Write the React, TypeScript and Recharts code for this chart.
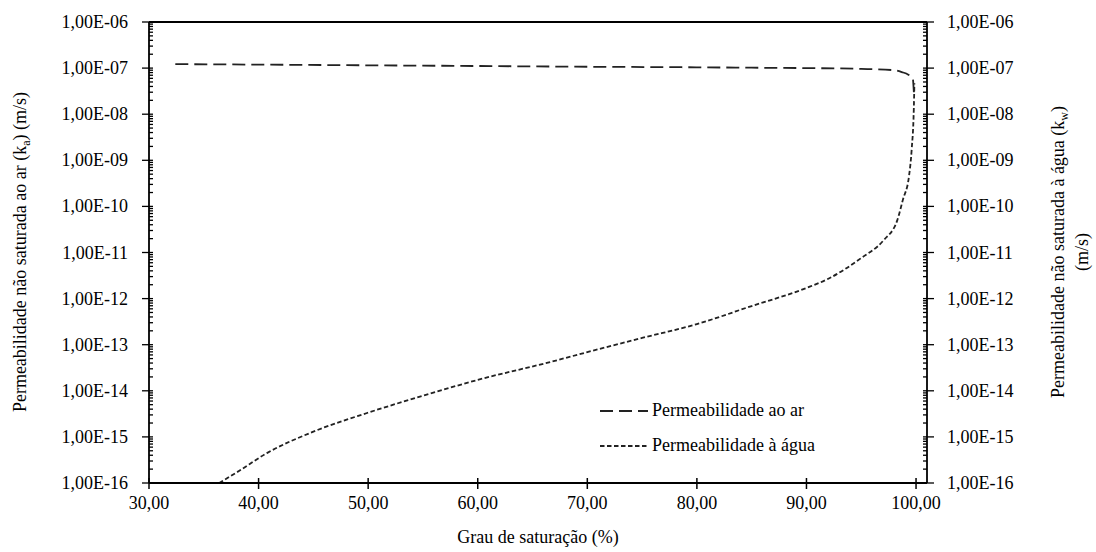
import React from 'react';
import { LineChart, Line, XAxis, YAxis, ReferenceLine, Legend } from 'recharts';

const FONT = 'Times New Roman, Liberation Serif, Tinos, DejaVu Serif, Noto Serif, serif';

// grau de saturação (%) vs permeabilidade ao ar (m/s)
const airSat = [32.4, 40, 50, 60, 70, 80, 85, 90, 95, 98.0, 98.7, 99.3, 99.7, 99.8];
const airPerm = [1.22e-7, 1.19e-7, 1.15e-7, 1.11e-7, 1.07e-7, 1.04e-7, 1.02e-7, 1.0e-7, 9.6e-8, 9.0e-8, 8.2e-8, 7.2e-8, 6.0e-8, 3.0e-8];

// grau de saturação (%) vs permeabilidade à água (m/s)
const waterSat = [36.4, 38, 40.8, 45, 49.9, 55, 59.9, 66.6, 70, 75, 80, 85, 90, 92, 95, 97, 98.3, 98.8, 99.35, 99.6, 99.8, 99.85];
const waterPerm = [
  1e-16, 1.7e-16, 4.5e-16, 1.3e-15, 3.3e-15, 7.8e-15, 1.7e-14, 4.2e-14, 6.9e-14, 1.4e-13, 2.8e-13,
  6.9e-13, 1.7e-12, 2.7e-12, 7.6e-12, 1.8e-11, 5.1e-11, 1.4e-10, 4.4e-10, 1.7e-9, 1.4e-8, 4.7e-8,
];

const xTicks = [30, 40, 50, 60, 70, 80, 90, 100];
const decades = [-16, -15, -14, -13, -12, -11, -10, -9, -8, -7, -6];

const airData = airSat.map((s, i) => ({ s, k: airPerm[i] }));
const waterData = waterSat.map((s, i) => ({ s, k: waterPerm[i] }));

// major + minor log ticks
const yTicks: number[] = [];
decades.forEach((e, i) => {
  const steps = i === decades.length - 1 ? [1] : [1, 2, 3, 4, 5, 6, 7, 8, 9];
  steps.forEach((m) => yTicks.push(m * Math.pow(10, e)));
});

const isMajor = (v: number) => {
  const l = Math.log10(v);
  return Math.abs(l - Math.round(l)) < 1e-6;
};
const fmtExp = (v: number) => {
  const e = Math.round(Math.log10(v));
  return `1,00E${e < 0 ? '-' : '+'}${String(Math.abs(e)).padStart(2, '0')}`;
};

const AIR_DASH = '13 6';
const WATER_DASH = '4.5 2.5';

const LeftTick = (props: any) => {
  const { x, y, payload } = props;
  const major = isMajor(payload.value);
  return (
    <g>
      <line x1={major ? x - 7 : x} x2={x + 4} y1={y} y2={y} stroke="#000" strokeWidth={1.3} />
      {major && (
        <text x={x - 21} y={y} textAnchor="end" dominantBaseline="central" fontFamily={FONT} fontSize={18} fill="#000">
          {fmtExp(payload.value)}
        </text>
      )}
    </g>
  );
};

const RightTick = (props: any) => {
  const { x, y, payload } = props;
  const major = isMajor(payload.value);
  return (
    <g>
      <line x1={x - 4} x2={major ? x + 7 : x} y1={y} y2={y} stroke="#000" strokeWidth={1.3} />
      {major && (
        <text x={x + 20} y={y} textAnchor="start" dominantBaseline="central" fontFamily={FONT} fontSize={18} fill="#000">
          {fmtExp(payload.value)}
        </text>
      )}
    </g>
  );
};

const BottomTick = (props: any) => {
  const { x, y, payload } = props;
  return (
    <g>
      <line x1={x} x2={x} y1={y - 5} y2={y + 6} stroke="#000" strokeWidth={1.5} />
      <text x={x} y={y + 26} textAnchor="middle" fontFamily={FONT} fontSize={18} fill="#000">
        {payload.value.toFixed(2).replace('.', ',')}
      </text>
    </g>
  );
};

const XTitle = () => (
  <text x={538} y={543} textAnchor="middle" fontFamily={FONT} fontSize={18} fill="#000">
    Grau de saturação (%)
  </text>
);

const LeftTitle = () => (
  <text transform="translate(26,252) rotate(-90)" textAnchor="middle" fontFamily={FONT} fontSize={18} fill="#000">
    Permeabilidade não saturada ao ar (k
    <tspan fontSize={12} dy={4}>a</tspan>
    <tspan dy={-4}>) (m/s)</tspan>
  </text>
);

const RightTitle = () => (
  <g>
    <text transform="translate(1064,252) rotate(-90)" textAnchor="middle" fontFamily={FONT} fontSize={18} fill="#000">
      Permeabilidade não saturada à água (k
      <tspan fontSize={12} dy={4}>w</tspan>
      <tspan dy={-4}>)</tspan>
    </text>
    <text transform="translate(1088,252) rotate(-90)" textAnchor="middle" fontFamily={FONT} fontSize={18} fill="#000">
      (m/s)
    </text>
  </g>
);

const legendItems = [
  { name: 'Permeabilidade ao ar', dash: AIR_DASH },
  { name: 'Permeabilidade à água', dash: WATER_DASH },
];

const renderLegend = () => (
  <div style={{ fontFamily: FONT, fontSize: 18, color: '#000' }}>
    {legendItems.map((item) => (
      <div key={item.name} style={{ display: 'flex', alignItems: 'center', height: 35 }}>
        <svg width={52} height={10} style={{ marginRight: 2 }}>
          <line x1={2} y1={5} x2={50} y2={5} stroke="#222" strokeWidth={1.8} strokeDasharray={item.dash} />
        </svg>
        <span>{item.name}</span>
      </div>
    ))}
  </div>
);

export default function App() {
  return (
    <div style={{ position: 'absolute', left: 0, top: 0, width: 1096, height: 552, background: '#fff', fontFamily: FONT }}>
      <LineChart width={1096} height={552} margin={{ top: 22, right: 0, bottom: 0, left: 0 }} style={{ fontFamily: FONT }}>
        <XAxis
          type="number"
          dataKey="s"
          domain={[30, 101]}
          ticks={xTicks}
          interval={0}
          allowDataOverflow
          height={69}
          tickSize={0}
          tickMargin={0}
          tickLine={false}
          tick={BottomTick}
          axisLine={{ stroke: '#000', strokeWidth: 1.8 }}
          label={{ content: XTitle }}
        />
        <YAxis
          yAxisId="left"
          type="number"
          scale="log"
          domain={[1e-16, 1e-6]}
          ticks={yTicks}
          interval={0}
          allowDataOverflow
          width={149}
          tickSize={0}
          tickMargin={0}
          tickLine={false}
          tick={LeftTick}
          axisLine={{ stroke: '#000', strokeWidth: 1.8 }}
          label={{ content: LeftTitle }}
        />
        <YAxis
          yAxisId="right"
          orientation="right"
          type="number"
          scale="log"
          domain={[1e-16, 1e-6]}
          ticks={yTicks}
          interval={0}
          allowDataOverflow
          width={169}
          tickSize={0}
          tickMargin={0}
          tickLine={false}
          tick={RightTick}
          axisLine={{ stroke: '#000', strokeWidth: 1.8 }}
          label={{ content: RightTitle }}
        />
        <ReferenceLine yAxisId="left" y={1e-6} stroke="#000" strokeWidth={1.8} />
        <Line
          yAxisId="left"
          data={airData}
          dataKey="k"
          type="monotone"
          stroke="#222"
          strokeWidth={1.8}
          strokeDasharray={AIR_DASH}
          dot={false}
          activeDot={false}
          isAnimationActive={false}
        />
        <Line
          yAxisId="right"
          data={waterData}
          dataKey="k"
          type="monotone"
          stroke="#222"
          strokeWidth={1.8}
          strokeDasharray={WATER_DASH}
          dot={false}
          activeDot={false}
          isAnimationActive={false}
        />
        <Legend
          layout="vertical"
          align="center"
          verticalAlign="middle"
          content={renderLegend}
          wrapperStyle={{ left: 598, top: 393, width: 320 }}
        />
      </LineChart>
    </div>
  );
}
